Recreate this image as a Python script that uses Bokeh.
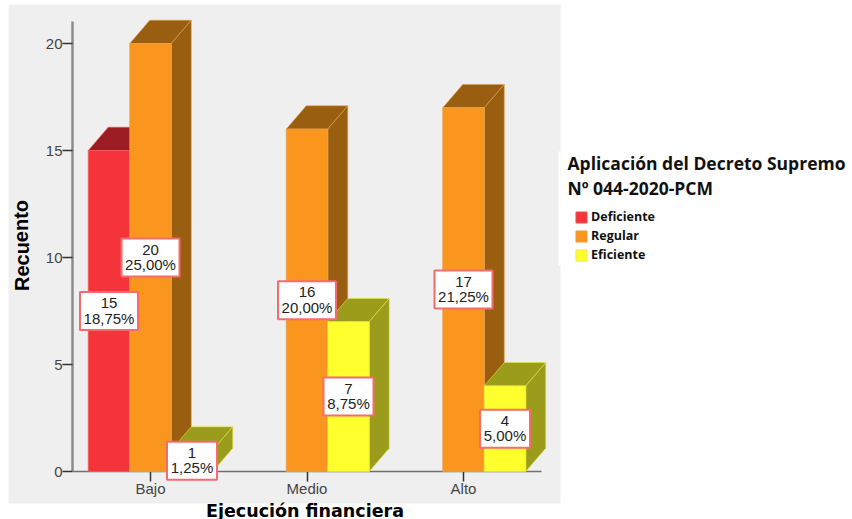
from bokeh.plotting import figure
from bokeh.models import (ColumnDataSource, FixedTicker, Label, Legend, LegendItem, LinearAxis)
from bokeh.core.properties import value
from bokeh.embed import file_html
from bokeh.resources import INLINE

categories = ["Bajo", "Medio", "Alto"]
series_names = ["Deficiente", "Regular", "Eficiente"]
deficiente = [15, 0, 0]
regular = [20, 16, 17]
eficiente = [1, 7, 4]
pct_deficiente = ["18,75%", "", ""]
pct_regular = ["25,00%", "20,00%", "21,25%"]
pct_eficiente = ["1,25%", "8,75%", "5,00%"]
y_ticks = [0, 5, 10, 15, 20]
x_title = "Ejecución financiera"
y_title = "Recuento"
legend_title = ["Aplicación del Decreto Supremo", "Nº 044-2020-PCM"]

front = ["#F5333A", "#FA961E", "#FFFF2D"]
dark = ["#9B1C22", "#995E10", "#9C9C1C"]
edge = ["#F55A60", "#E8A04A", "#E6E640"]

W, H = 852, 519
PANEL = (8, 560, 4, 503)  # left, right, top, bottom in page pixels
X0, XSTEP = 150.0, 156.5
Y0, YSTEP = 471.0, 21.4


def xd(px):
    return (px - X0) / XSTEP


def yd(py):
    return (Y0 - py) / YSTEP


bar_w = 41.5 / XSTEP
dx = 20 / XSTEP
dy = 23.3 / YSTEP

p = figure(width=W, height=H, output_backend="svg", toolbar_location=None,
           x_range=(xd(0), xd(W)), y_range=(yd(H), yd(0)),
           min_border=0, x_axis_location=None, y_axis_location=None,
           background_fill_color="white", border_fill_color="white",
           outline_line_color=None)
p.grid.visible = False

# grey chart panel, with the white legend block biting slightly into it
p.quad(left=[xd(PANEL[0])], right=[xd(PANEL[1])], bottom=[yd(PANEL[3])], top=[yd(PANEL[2])],
       fill_color="#EFEFEF", line_color=None, level="underlay")
p.quad(left=[xd(558)], right=[xd(PANEL[1])], bottom=[yd(265)], top=[yd(151)],
       fill_color="white", line_color=None, level="underlay")

legend_items = []
label_x, label_y, label_l1, label_l2, label_w = [], [], [], [], []
all_vals = [deficiente, regular, eficiente]
all_pct = [pct_deficiente, pct_regular, pct_eficiente]
for s, (vals, pcts) in enumerate(zip(all_vals, all_pct)):
    xs = [i + (s - 1) * bar_w for i, v in enumerate(vals) if v > 0]
    ys = [v for v in vals if v > 0]
    ps = [t for v, t in zip(vals, pcts) if v > 0]
    tops_x = [[x - bar_w / 2, x + bar_w / 2, x + bar_w / 2 + dx, x - bar_w / 2 + dx] for x in xs]
    tops_y = [[v, v, v + dy, v + dy] for v in ys]
    side_x = [[x + bar_w / 2, x + bar_w / 2 + dx, x + bar_w / 2 + dx, x + bar_w / 2] for x in xs]
    side_y = [[0, dy, v + dy, v] for v in ys]
    p.patches(tops_x, tops_y, fill_color=dark[s], line_color=edge[s], line_width=0.6)
    p.patches(side_x, side_y, fill_color=dark[s], line_color=edge[s], line_width=0.6)
    r = p.vbar(x=xs, top=ys, bottom=0, width=bar_w, fill_color=front[s], line_color=edge[s], line_width=0.8)
    legend_items.append(LegendItem(label=series_names[s], renderers=[r]))
    for x, v, t in zip(xs, ys, ps):
        label_x.append(x)
        label_y.append(v / 2)
        label_l1.append(str(v))
        label_l2.append(t)
        label_w.append(58 if len(t) > 5 else 50)

# axes placed inside the frame
yaxis = LinearAxis(fixed_location=xd(72), ticker=FixedTicker(ticks=y_ticks), bounds=(0, yd(21)),
                   axis_line_color="#8C8C8C", axis_line_width=2.5,
                   major_tick_line_color="#333333", major_tick_line_width=1.5,
                   major_tick_in=0, major_tick_out=10, minor_tick_line_color=None,
                   major_label_text_font="Liberation Sans", major_label_text_font_size="15px",
                   major_label_text_color="#444444", major_label_standoff=0, level="underlay")
p.add_layout(yaxis, "left")
xaxis = LinearAxis(fixed_location=0, ticker=FixedTicker(ticks=[0, 1, 2]), bounds=(xd(72), xd(541)),
                   major_label_overrides={i: c for i, c in enumerate(categories)},
                   axis_line_color="#707070", axis_line_width=1.5,
                   major_tick_line_color="#333333", major_tick_line_width=1.5,
                   major_tick_in=0, major_tick_out=10, minor_tick_line_color=None,
                   major_label_text_font="Liberation Sans", major_label_text_font_size="15px",
                   major_label_text_color="#444444", major_label_standoff=-2, level="underlay")
p.add_layout(xaxis, "below")

src = ColumnDataSource(dict(x=label_x, y=label_y, a=label_l1, b=label_l2, w=label_w))
p.rect(x="x", y="y", width="w", width_units="screen", height=38, height_units="screen", source=src,
       fill_color="white", line_color="#F76B6F", line_width=2, level="overlay")
p.text(x="x", y="y", text="a", source=src, text_align="center", text_baseline="middle", y_offset=-8,
       text_font=value("Liberation Sans"), text_font_size="15px", text_color="#222222", level="overlay")
p.text(x="x", y="y", text="b", source=src, text_align="center", text_baseline="middle", y_offset=7,
       text_font=value("Liberation Sans"), text_font_size="15px", text_color="#222222", level="overlay")

legend = Legend(items=legend_items, location=(574, H - 263),
                orientation="vertical", glyph_width=14, glyph_height=14, spacing=2, label_standoff=3,
                padding=0, margin=0, border_line_color=None, background_fill_alpha=0,
                label_text_font="Open Sans", label_text_font_style="bold", label_text_font_size="12.5px",
                label_text_color="#111111", label_height=13)
p.add_layout(legend, "center")

texts = [
    Label(x=567, y=H - 162, text=legend_title[0], text_font="Open Sans", text_font_style="bold",
          text_font_size="17.5px", text_color="#111111", text_baseline="middle"),
    Label(x=567, y=H - 187, text=legend_title[1], text_font="Open Sans", text_font_style="bold",
          text_font_size="17.5px", text_color="#111111", text_baseline="middle"),
    Label(x=304.5, y=H - 510, text=x_title, text_font="DejaVu Sans", text_font_style="bold",
          text_font_size="17.5px", text_color="black", text_align="center", text_baseline="middle"),
    Label(x=21, y=H - 245, text=y_title, text_font="Liberation Sans", text_font_style="bold",
          text_font_size="20px", text_color="black", text_align="center", text_baseline="middle", angle=1.5708),
]
for t in texts:
    t.x_units = "screen"
    t.y_units = "screen"
    p.add_layout(t)

open("out.html", "w").write(file_html(p, INLINE))
